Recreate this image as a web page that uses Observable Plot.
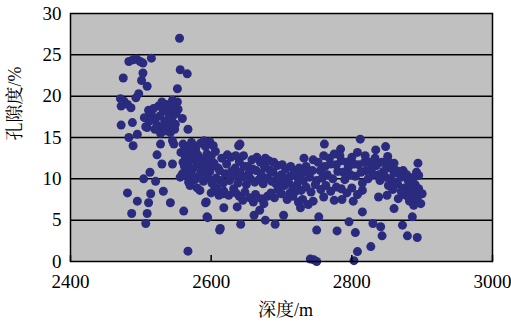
<!DOCTYPE html>
<html>
<head>
<meta charset="utf-8">
<script src="https://cdn.jsdelivr.net/npm/d3@7"></script>
<script src="https://cdn.jsdelivr.net/npm/@observablehq/plot@0.6"></script>
<style>
  html, body { margin: 0; padding: 0; background: white; }
  #chart svg text { font-family: 'Liberation Serif', 'Noto Serif CJK SC', serif !important; }
</style>
</head>
<body>
<div id="chart"></div>
<script>
const xTicks = [2400, 2600, 2800, 3000];
const yTicks = [0, 5, 10, 15, 20, 25, 30];
const xTitle = "深度/m";
const yTitle = "孔隙度/%";

const depth = [
  // upper-left scatter
  2555,2483,2489,2494,2499,2503,2515,2475,2503,2501,2509,2556,2566,2552,2471,2476,2481,2472,2497,2493,2486,
  2472,2488,2509,2567,2549,2559,2552,2495,2483,2489,2507,2511,2528,2545,2523,2530,2545,2639,
  // dense blob 2500-2555
  2515,2518,2520,2523,2525,2527,2530,2532,2534,2536,2538,2540,2541,2543,2545,2547,2548,2550,2542,2528,
  2520,2535,2553,2512,2505,2530,2545,
  // lower-left scatter
  2481,2495,2487,2507,2509,2514,2511,2504,2513,2521,2532,2542,2561,2567,2594,2612,2592,2584,2559,2547,
  // dense 2560-2620
  2560,2566,2572,2578,2585,2592,2598,2563,2569,2575,2581,2588,2594,2600,2606,2562,2568,2574,2580,2586,
  2592,2598,2604,2610,2565,2571,2577,2583,2589,2595,2601,2607,2613,2570,2580,2600,2608,2617,
  2557,2564,2576,2590,2596,2603,2566,2584,2573,2587,2599,2560,2556,2568,
  // band 2610-2730
  2615,2622,2628,2634,2640,2646,2652,2658,2664,2670,2676,2682,2688,2694,2700,2706,2712,2718,2724,2730,
  2620,2626,2632,2638,2644,2650,2656,2662,2668,2674,2680,2686,2692,2698,2704,2710,2716,2722,2728,
  2618,2625,2632,2640,2648,2655,2663,2671,2680,2690,2700,2708,2716,2724,
  2612,2617,2623,2629,2635,2641,2647,2653,2659,2665,2671,2677,2683,2689,2695,2701,2707,2713,2719,2725,
  2731,2605,2611,2635,2645,2660,2675,2685,2695,2712,2720,
  2593,2595,2613,2642,2637,2618,2661,2669,2677,2691,2703,2727,2641,
  // band 2730-2900 outliers
  2761,2784,2812,2834,2848,2851,2860,2894,2895,2873,2819,2775,2786,2802,2753,2750,2779,2805,2796,2815,
  2830,2841,2843,2827,2808,2803,2746,2741,2750,2872,2879,2893,2898,2886,2815,2838,2860,2900,
  // band 2730-2900 fill
  2735,2740,2745,2750,2755,2760,2765,2770,2775,2780,2785,2790,2795,2800,2805,2810,2815,2820,2825,2830,
  2835,2840,2845,2850,2855,2860,2865,2870,2875,2880,2885,2890,2895,
  2735,2742,2748,2756,2763,2770,2778,2785,2793,2800,2808,2850,2858,2866,2874,2882,2888,2893,
  2730,2738,2745,2760,
  2732,2738,2744,2752,2758,2762,2768,2773,2778,2783,2788,2793,2798,2803,2808,2813,2818,2823,2828,2833,
  2838,2843,2848,2853,2858,2863,2868,2878,2883,2888,2892,2890,2880,2870,2862,2852
];

const porosity = [
  27.0,24.2,24.4,24.5,24.2,24.0,24.6,22.2,22.8,21.9,21.2,23.2,22.7,20.9,19.7,19.4,19.0,18.8,20.3,19.8,18.6,
  16.5,16.8,16.2,16.0,16.6,17.3,19.3,15.4,15.0,14.0,16.3,18.3,14.2,14.6,12.9,11.8,11.8,14.0,
  17.8,18.5,17.2,16.5,18.8,17.6,16.3,18.2,17.0,19.0,16.1,17.8,18.6,16.8,17.5,18.9,16.0,17.9,15.6,15.5,
  16.0,15.8,18.4,17.0,17.4,19.3,19.5,
  8.3,7.3,5.8,4.6,5.8,8.2,7.1,10.0,10.8,9.7,8.5,7.1,6.1,1.25,5.4,3.8,7.1,8.6,10.6,14.2,
  14.2,13.8,14.4,13.6,14.3,13.9,14.5,12.8,13.1,12.5,12.9,12.4,13.0,12.7,13.3,11.5,12.0,11.2,11.8,11.0,
  11.6,10.9,11.9,11.3,10.3,10.8,9.9,10.4,9.7,10.2,9.5,10.1,9.8,9.2,8.9,8.3,8.8,8.2,
  13.2,13.5,14.0,14.6,12.2,14.0,11.0,12.0,10.2,10.9,11.3,12.0,10.2,9.6,
  12.5,11.8,12.6,11.3,12.1,12.8,11.5,12.3,11.0,12.0,11.4,12.2,10.8,11.6,10.5,11.2,10.3,11.0,10.0,10.8,
  10.6,9.8,10.4,9.5,10.2,9.3,10.0,9.6,9.9,9.4,10.1,9.7,9.4,9.9,9.2,9.6,8.9,9.3,8.6,
  8.5,8.0,8.8,7.9,8.4,7.7,8.1,7.6,7.9,7.7,8.2,7.5,7.9,7.2,
  11.0,9.5,12.9,10.9,12.8,10.8,11.5,10.6,11.2,12.6,10.6,12.5,11.1,12.0,10.2,11.7,10.0,11.5,10.5,11.3,
  9.8,9.0,8.0,8.3,7.4,7.2,7.0,8.3,8.7,8.3,8.5,
  7.2,5.3,4.0,4.5,6.6,6.5,5.6,6.2,5.0,4.5,5.6,6.5,14.2,
  14.2,13.6,14.8,13.5,13.9,12.7,11.9,11.9,10.4,11.0,12.8,7.4,7.5,7.3,5.4,3.8,3.7,3.5,4.8,6.0,
  4.6,4.2,3.1,1.8,1.2,0.1,0.2,0.3,0.0,4.4,3.1,2.9,7.0,5.4,8.6,7.8,6.4,8.2,
  11.5,10.2,12.3,9.8,11.0,12.8,10.5,11.8,13.0,10.9,12.2,9.9,11.4,12.6,10.3,11.7,9.5,11.0,12.0,10.5,
  11.6,9.8,10.9,11.3,10.0,10.7,9.4,10.2,8.9,9.8,8.5,9.3,8.8,
  9.0,8.4,9.3,8.7,9.2,8.5,9.0,8.8,8.3,8.9,8.1,8.0,8.7,7.6,8.1,7.3,6.8,7.6,
  7.5,6.9,7.3,7.8,
  12.5,10.8,11.0,12.0,10.1,11.5,12.5,10.0,11.7,12.8,10.8,12.0,10.5,11.8,13.2,10.8,12.0,10.0,11.2,12.5,
  10.5,12.0,10.2,12.0,11.2,11.0,10.9,10.5,9.2,10.2,10.8,8.0,7.8,8.5,9.6,9.2
];

const data = depth.map((d, i) => ({depth: d, porosity: porosity[i]}));

const chart = Plot.plot({
  width: 511,
  height: 326,
  marginLeft: 70,
  marginRight: 19,
  marginTop: 13,
  marginBottom: 65,
  style: {fontSize: "19px", background: "white", color: "black"},
  x: {domain: [2400, 3000], ticks: xTicks, label: null},
  y: {domain: [0, 30], ticks: yTicks, label: null},
  marks: [
    Plot.frame({fill: "#c0c0c0"}),
    Plot.ruleY(yTicks.slice(1, -1), {stroke: "black", strokeWidth: 1.5}),
    Plot.dot(data, {x: "depth", y: "porosity", r: 4.5, fill: "#2a2a7e", stroke: "none"}),
    Plot.frame({stroke: "black", strokeWidth: 1.5}),
    Plot.axisY({ticks: yTicks, tickSize: 0, tickPadding: 9, fontSize: 19, label: null}),
    Plot.axisX({ticks: xTicks, tickSize: 0, tickPadding: 13, fontSize: 19, tickFormat: d => String(d), label: null}),
    Plot.axisX({ticks: xTicks, tickSize: -6, tickFormat: () => "", label: null, strokeWidth: 1.5}),
    Plot.text([xTitle], {frameAnchor: "bottom", dy: 54, dx: 4, fontSize: 18}),
    Plot.text([yTitle], {frameAnchor: "left", dx: -55, dy: 3, rotate: -90, fontSize: 18})
  ]
});
document.getElementById("chart").appendChild(chart);
</script>
</body>
</html>
